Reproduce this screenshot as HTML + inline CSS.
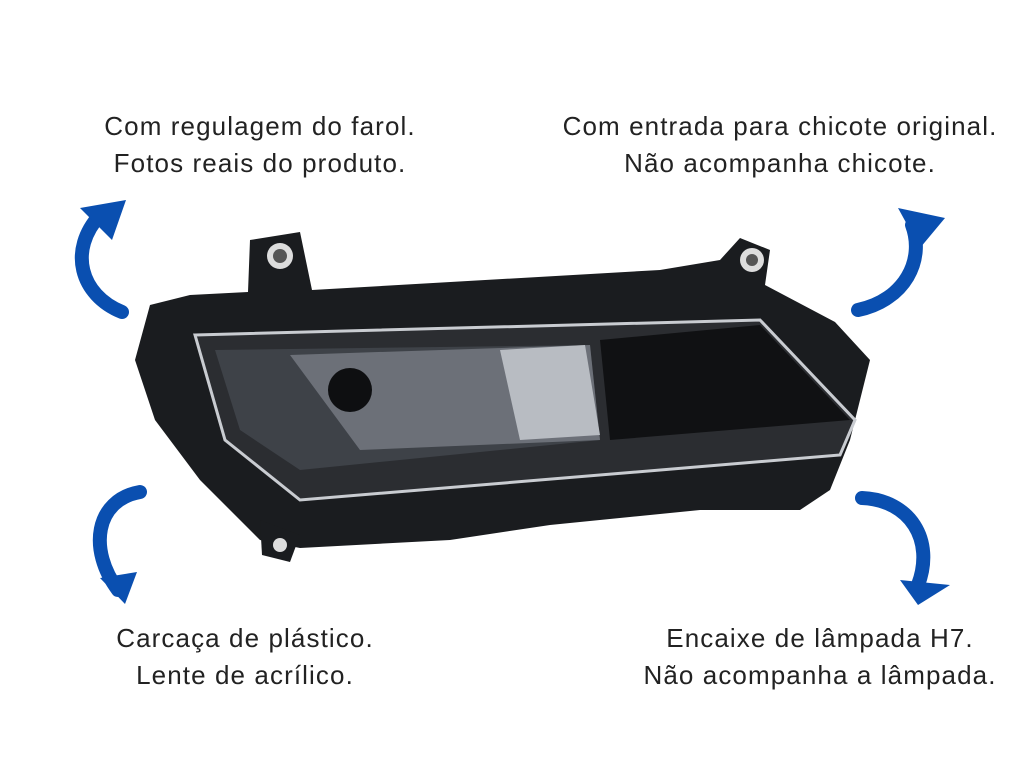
<!DOCTYPE html>
<html><head><meta charset="utf-8"><style>
html,body{margin:0;padding:0;background:#fff;}
.t{position:absolute;font-family:"Liberation Sans",sans-serif;font-size:26px;color:#222;text-align:center;line-height:37px;letter-spacing:1.1px}
</style></head><body>
<div style="position:relative;width:1024px;height:768px;overflow:hidden">
<div class="t" style="left:40px;top:108px;width:440px">Com regulagem do farol.<br>Fotos reais do produto.</div>
<div class="t" style="left:520px;top:108px;width:520px">Com entrada para chicote original.<br>Não acompanha chicote.</div>
<div class="t" style="left:60px;top:620px;width:370px">Carcaça de plástico.<br>Lente de acrílico.</div>
<div class="t" style="left:600px;top:620px;width:440px">Encaixe de lâmpada H7.<br>Não acompanha a lâmpada.</div>
<svg width="1024" height="768" style="position:absolute;left:0;top:0">
<g fill="none" stroke="#0a4fb0" stroke-width="14" stroke-linecap="round">
<path d="M122,312 C80,295 68,250 100,215"/>
<path d="M858,310 C905,300 925,260 912,225"/>
<path d="M140,492 C95,500 88,550 118,590"/>
<path d="M862,498 C910,500 935,540 918,585"/>
</g>
<g fill="#0a4fb0">
<polygon points="80,208 126,200 112,240"/>
<polygon points="898,208 945,218 920,248"/>
<polygon points="100,578 137,572 125,604"/>
<polygon points="900,580 950,585 918,605"/>
</g>
<g>
<polygon points="250,240 300,232 312,290 660,270 720,260 740,238 770,250 765,285 835,322 870,360 850,440 830,490 800,510 700,510 550,525 450,540 300,548 260,540 200,480 155,420 135,360 150,305 190,295 248,292" fill="#1a1c1f"/>
<circle cx="280" cy="256" r="13" fill="#ddd"/><circle cx="280" cy="256" r="7" fill="#555"/>
<circle cx="752" cy="260" r="12" fill="#ddd"/><circle cx="752" cy="260" r="6" fill="#555"/>
<polygon points="195,335 760,320 855,420 840,455 300,500 225,440" fill="#2b2d31" stroke="#c9ccd1" stroke-width="3"/>
<polygon points="215,350 590,345 600,440 300,470 240,430" fill="#3e4248"/>
<polygon points="290,355 590,345 600,440 360,450" fill="#6c7078"/>
<polygon points="500,350 585,345 600,435 520,440" fill="#b8bcc2"/>
<circle cx="350" cy="390" r="22" fill="#0e0f11"/>
<polygon points="600,340 760,325 850,420 610,440" fill="#101113"/>
<polygon points="260,520 300,535 290,562 262,555" fill="#1a1c1f"/>
<circle cx="280" cy="545" r="7" fill="#ddd"/>
</g>
</svg>
</div>
</body></html>
